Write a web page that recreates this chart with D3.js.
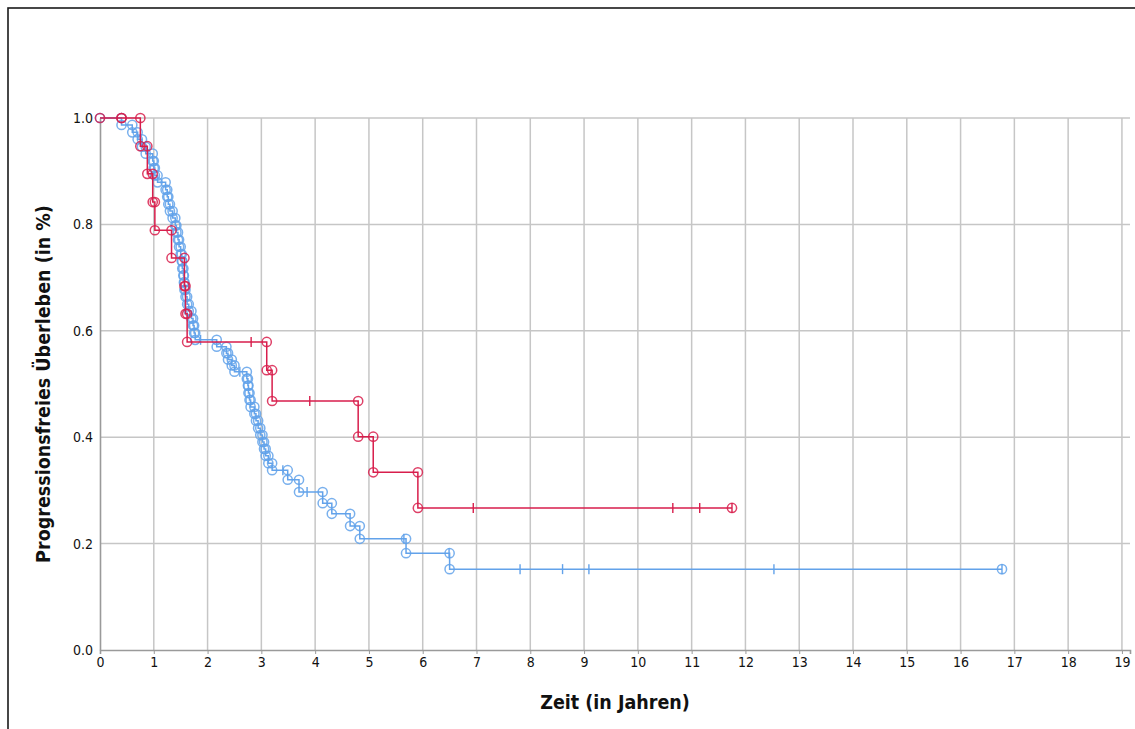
<!DOCTYPE html>
<html>
<head>
<meta charset="utf-8">
<script src="https://cdn.jsdelivr.net/npm/d3@7"></script>
<style>
  body { margin: 0; background: #fff; }
  svg { display: block; }
</style>
</head>
<body>
<div id="km-chart"></div>
<script>
(function() {
  var width = 1135, height = 729;

  // red group: event times (years) and survival right after each event
  var redEventTimes = [0.40, 0.75, 0.88, 0.98, 1.02, 1.33, 1.57, 1.59, 1.62, 3.10, 3.20, 4.80, 5.08, 5.91];
  var redSurvival   = [1.000, 0.947, 0.895, 0.842, 0.789, 0.737, 0.684, 0.632, 0.579, 0.526, 0.468, 0.401, 0.334, 0.267];
  var redCensored   = [2.81, 3.90, 6.94, 10.65, 11.15, 11.75];

  // blue group
  var blueEventTimes = [0.40, 0.60, 0.70, 0.78, 0.85, 0.98, 1.00, 1.02, 1.07, 1.22,
                        1.25, 1.27, 1.30, 1.35, 1.40, 1.42, 1.45, 1.47, 1.50, 1.52,
                        1.53, 1.55, 1.56, 1.57, 1.59, 1.62, 1.65, 1.70, 1.73, 1.75,
                        1.77, 2.17, 2.35, 2.38, 2.45, 2.50, 2.73, 2.75, 2.76, 2.78,
                        2.80, 2.87, 2.90, 2.94, 2.98, 3.02, 3.05, 3.08, 3.13, 3.20,
                        3.49, 3.70, 4.14, 4.31, 4.65, 4.83, 5.69, 6.50];
  var blueSurvival   = [0.987, 0.973, 0.960, 0.946, 0.933, 0.919, 0.906, 0.892, 0.879, 0.865,
                        0.852, 0.838, 0.825, 0.812, 0.798, 0.785, 0.771, 0.758, 0.744, 0.731,
                        0.717, 0.704, 0.691, 0.677, 0.664, 0.650, 0.637, 0.623, 0.610, 0.596,
                        0.583, 0.570, 0.558, 0.546, 0.535, 0.523, 0.510, 0.497, 0.483, 0.470,
                        0.457, 0.444, 0.431, 0.417, 0.404, 0.391, 0.378, 0.365, 0.351, 0.338,
                        0.320, 0.297, 0.276, 0.256, 0.233, 0.209, 0.182, 0.152];
  var blueCensored   = [1.87, 2.60, 3.40, 3.85, 5.65, 6.49, 7.81, 8.60, 9.09, 12.53, 16.77];

  var xTicks = d3.range(0, 20);
  var yTicks = [0, 0.2, 0.4, 0.6, 0.8, 1.0];

  var redColor = "#d81e4c", blueColor = "#62a2ea";

  var svg = d3.select("#km-chart")
    .append("svg")
    .attr("width", width)
    .attr("height", height);

  // outer frame
  svg.append("rect")
    .attr("x", 8).attr("y", 8)
    .attr("width", 1150).attr("height", 760)
    .attr("fill", "none")
    .attr("stroke", "#1a1a1a")
    .attr("stroke-width", 1.6);

  var xScale = d3.scaleLinear().domain([0, 19.15]).range([100, 1130]);
  var yScale = d3.scaleLinear().domain([0, 1]).range([650, 118]);

  // grid
  svg.append("g").selectAll("line.v")
    .data(xTicks.slice(1))
    .enter().append("line")
    .attr("x1", function(d) { return xScale(d); })
    .attr("x2", function(d) { return xScale(d); })
    .attr("y1", yScale(1)).attr("y2", yScale(0))
    .attr("stroke", "#c6c6c6").attr("stroke-width", 1.5);

  svg.append("g").selectAll("line.h")
    .data(yTicks.slice(1))
    .enter().append("line")
    .attr("x1", xScale(0)).attr("x2", xScale(19.15))
    .attr("y1", function(d) { return yScale(d); })
    .attr("y2", function(d) { return yScale(d); })
    .attr("stroke", "#c6c6c6").attr("stroke-width", 1.5);

  // axes
  var xAxis = d3.axisBottom(xScale).tickValues(xTicks).tickSize(4).tickFormat(d3.format("d"));
  var gx = svg.append("g")
    .attr("transform", "translate(0," + yScale(0) + ")")
    .call(xAxis);
  gx.select(".domain").attr("stroke", "#9a9a9a").attr("stroke-width", 1.6);
  gx.selectAll(".tick line").attr("stroke", "#9a9a9a");
  gx.selectAll("text")
    .attr("y", 7)
    .style("font-family", "'Liberation Sans Narrow', 'DejaVu Sans Condensed', sans-serif")
    .style("font-size", "14px")
    .style("fill", "#111");

  var yAxis = d3.axisLeft(yScale).tickValues(yTicks).tickSize(0).tickFormat(d3.format(".1f"));
  var gy = svg.append("g")
    .attr("transform", "translate(" + xScale(0) + ",0)")
    .call(yAxis);
  gy.select(".domain").attr("stroke", "#9a9a9a").attr("stroke-width", 1.6);
  gy.selectAll("text")
    .attr("x", -7)
    .style("font-family", "'Liberation Sans Narrow', 'DejaVu Sans Condensed', sans-serif")
    .style("font-size", "14px")
    .style("fill", "#111");

  // axis titles
  svg.append("text")
    .attr("x", 615).attr("y", 709)
    .attr("text-anchor", "middle")
    .style("font-family", "'DejaVu Sans Condensed', sans-serif")
    .style("font-weight", "bold")
    .style("font-size", "19.5px")
    .style("fill", "#111")
    .text("Zeit (in Jahren)");

  svg.append("text")
    .attr("transform", "translate(50,384) rotate(-90)")
    .attr("text-anchor", "middle")
    .style("font-family", "'DejaVu Sans Condensed', sans-serif")
    .style("font-weight", "bold")
    .style("font-size", "19.5px")
    .style("fill", "#111")
    .text("Progressionsfreies Überleben (in %)");

  function survivalAt(times, surv, t) {
    var s = 1;
    for (var i = 0; i < times.length; i++) {
      if (times[i] <= t) s = surv[i];
    }
    return s;
  }

  function drawCurve(times, surv, censored, color) {
    var g = svg.append("g");
    var lastTime = d3.max(censored.concat(times));

    var pts = [[0, 1]];
    times.forEach(function(t, i) { pts.push([t, surv[i]]); });
    pts.push([lastTime, surv[surv.length - 1]]);

    var line = d3.line()
      .x(function(d) { return xScale(d[0]); })
      .y(function(d) { return yScale(d[1]); })
      .curve(d3.curveStepAfter);

    g.append("path")
      .datum(pts)
      .attr("d", line)
      .attr("fill", "none")
      .attr("stroke", color)
      .attr("stroke-width", 1.5);

    // circles at both ends of each drop
    var marks = [[0, 1]];
    times.forEach(function(t, i) {
      var before = i === 0 ? 1 : surv[i - 1];
      marks.push([t, before]);
      marks.push([t, surv[i]]);
    });
    // last observation gets a circle too
    marks.push([lastTime, surv[surv.length - 1]]);

    g.selectAll("circle")
      .data(marks)
      .enter().append("circle")
      .attr("cx", function(d) { return xScale(d[0]); })
      .attr("cy", function(d) { return yScale(d[1]); })
      .attr("r", 4.6)
      .attr("fill", "none")
      .attr("stroke", color)
      .attr("stroke-opacity", 0.85)
      .attr("stroke-width", 1.5);

    // censor ticks
    g.selectAll("line.cens")
      .data(censored)
      .enter().append("line")
      .attr("x1", function(d) { return xScale(d); })
      .attr("x2", function(d) { return xScale(d); })
      .attr("y1", function(d) { return yScale(survivalAt(times, surv, d)) - 5; })
      .attr("y2", function(d) { return yScale(survivalAt(times, surv, d)) + 5; })
      .attr("stroke", color)
      .attr("stroke-width", 1.4);
  }

  drawCurve(blueEventTimes, blueSurvival, blueCensored, blueColor);
  drawCurve(redEventTimes, redSurvival, redCensored, redColor);

})();
</script>
</body>
</html>
